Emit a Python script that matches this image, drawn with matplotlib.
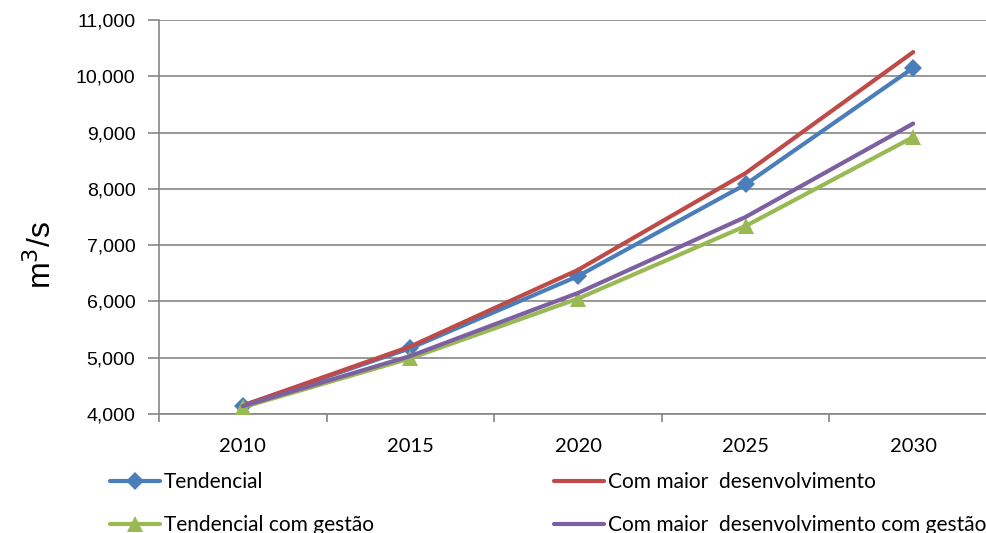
import matplotlib
matplotlib.use("Agg")
from matplotlib import pyplot as plt
from matplotlib.ticker import FuncFormatter
import numpy as np

anos = ["2010", "2015", "2020", "2025", "2030"]
tendencial = [4150, 5170, 6450, 8080, 10150]
maior_desenv = [4150, 5200, 6560, 8280, 10430]
tendencial_gestao = [4120, 4990, 6050, 7340, 8920]
maior_desenv_gestao = [4140, 5030, 6150, 7500, 9160]

series = [
    ("Tendencial", tendencial, "#4a7ebb", "D", 9),
    ("Com maior  desenvolvimento", maior_desenv, "#be4b48", None, 0),
    ("Tendencial com gestão", tendencial_gestao, "#98b954", "^", 12),
    ("Com maior  desenvolvimento com gestão", maior_desenv_gestao, "#7d60a0", None, 0),
]

fig = plt.figure(figsize=(9.86, 5.33), dpi=100)
W, H = 986, 533
ax = fig.add_axes([159 / W, 1 - 414 / H, (997 - 159) / W, (414 - 20) / H])

x = np.arange(len(anos))
linhas = []
for nome, vals, cor, mk, ms in series:
    l, = ax.plot(x, vals, color=cor, lw=3.0, marker=mk, markersize=ms,
                 markeredgewidth=0, label=nome, solid_capstyle="round", zorder=3)
    linhas.append(l)

ax.set_xlim(-0.5, len(anos) - 0.5)
ax.set_ylim(4000, 11000)
ax.set_yticks(range(4000, 11001, 1000))
ax.yaxis.set_major_formatter(FuncFormatter(lambda v, p: f"{int(v):,}"))
ax.set_xticks(x)
ax.set_xticklabels(anos)
ax.set_xticks(np.arange(-0.5, len(anos)), minor=True)
ax.tick_params(axis="x", which="major", length=0, pad=17)
ax.tick_params(axis="x", which="minor", length=6, color="#868686", width=1.2)
ax.tick_params(axis="y", length=8, color="#868686", width=1.2, pad=9)
for lab in ax.get_yticklabels():
    lab.set_fontfamily("Liberation Sans")
    lab.set_fontsize(14)
for lab in ax.get_xticklabels():
    lab.set_fontfamily("Lato")
    lab.set_fontsize(14.5)

ax.grid(axis="y", color="#868686", lw=1.2)
ax.set_axisbelow(True)
for s in ["top", "right"]:
    ax.spines[s].set_visible(False)
for s in ["left", "bottom"]:
    ax.spines[s].set_color("#868686")
    ax.spines[s].set_linewidth(1.2)

ax.set_ylabel("m$^3$/s", fontsize=23, family="Liberation Sans")
ax.yaxis.set_label_coords((58 - 159) / 838, (414 - 255) / 394)

kw = dict(frameon=False, handlelength=2.4, handletextpad=0.2, labelspacing=1.1,
          prop={"family": "Lato", "size": 15}, borderpad=0, borderaxespad=0)
leg1 = fig.legend([linhas[0], linhas[2]], [series[0][0], series[2][0]],
                  loc="upper left", bbox_to_anchor=(110 / W, 1 - 472 / H), **kw)
leg2 = fig.legend([linhas[1], linhas[3]], [series[1][0], series[3][0]],
                  loc="upper left", bbox_to_anchor=(554 / W, 1 - 472 / H), **kw)

fig.savefig("out.png", dpi=100)
